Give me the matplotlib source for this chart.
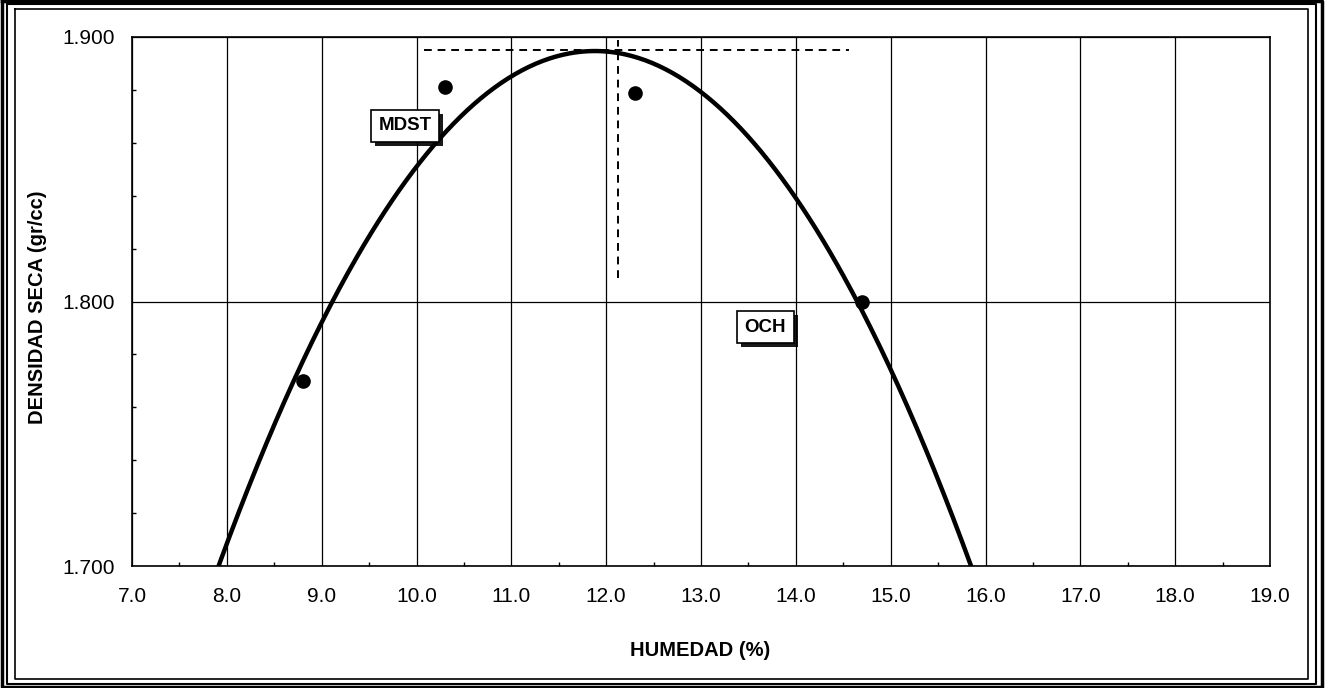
import matplotlib.pyplot as plt
import matplotlib.patheffects as pe
import numpy as np
from matplotlib.lines import Line2D
from matplotlib.ticker import MultipleLocator

plt.rcParams["font.family"] = ["Liberation Sans", "DejaVu Sans"]

# Proctor test points
humedad = [8.8, 10.3, 12.3, 14.7]
densidad = [1.770, 1.881, 1.879, 1.800]

# reference lines for max dry density and optimum moisture
mdst = 1.895
mdst_x = [10.08, 14.56]
och = 12.12
och_y = [1.809, 1.899]

x_ticks = np.arange(7, 20)
y_ticks = [1.700, 1.800, 1.900]

labels = ["MDST", "OCH"]
label_pos = [(9.88, 1.8664), (13.68, 1.7903)]

W, H = 1327, 688
fig = plt.figure(figsize=(W / 100, H / 100), dpi=100)
ax = fig.add_axes([132 / W, 1 - 566 / H, (1270 - 132) / W, (566 - 37) / H])

# fitted curve (2nd order trendline through the points)
coef = np.polyfit(humedad, densidad, 2)
xs = np.linspace(7, 19, 500)
ax.plot(xs, np.polyval(coef, xs), color="black", lw=3.2, zorder=3)
ax.plot(humedad, densidad, "o", color="black", ms=9.5, zorder=4)

ax.plot(mdst_x, [mdst, mdst], color="black", lw=1.4, ls=(0, (4, 3)), zorder=3)
ax.plot([och, och], och_y, color="black", lw=1.4, ls=(0, (4, 3)), zorder=3)

for lab, (lx, ly) in zip(labels, label_pos):
    t = ax.text(lx, ly, lab, ha="center", va="center", fontsize=13.5,
                fontweight="bold",
                bbox=dict(boxstyle="square,pad=0.4", fc="white", ec="black", lw=1.2),
                zorder=6)
    # drop shadow on the box
    t.get_bbox_patch().set_path_effects([
        pe.SimplePatchShadow(offset=(3, -3), shadow_rgbFace="black", alpha=0.9),
        pe.Normal()])

ax.set_xlim(7, 19)
ax.set_ylim(1.7, 1.9)
ax.set_xticks(x_ticks)
ax.set_xticklabels(["%.1f" % v for v in x_ticks])
ax.set_yticks(y_ticks)
ax.set_yticklabels(["%.3f" % v for v in y_ticks])
ax.xaxis.set_minor_locator(MultipleLocator(0.5))
ax.yaxis.set_minor_locator(MultipleLocator(0.02))
ax.tick_params(which="major", length=0, labelsize=15)
ax.tick_params(axis="x", which="major", pad=15)
ax.tick_params(axis="y", which="major", pad=12)
ax.tick_params(which="minor", direction="in", length=3, width=1)
ax.grid(True, which="major", color="black", lw=0.9)
for s in ax.spines.values():
    s.set_linewidth(1.2)

fig.text(700 / W, 1 - 651 / H, "HUMEDAD (%)", ha="center", va="center",
         fontsize=14.5, fontweight="bold")
fig.text(38 / W, 1 - 307 / H, "DENSIDAD SECA (gr/cc)", ha="center",
         va="center", rotation=90, fontsize=14.5, fontweight="bold")


# page frame
def frame(x0, y0, x1, y1, lw):
    xs_ = [x0 / W, x1 / W, x1 / W, x0 / W, x0 / W]
    ys_ = [1 - y0 / H, 1 - y0 / H, 1 - y1 / H, 1 - y1 / H, 1 - y0 / H]
    fig.add_artist(Line2D(xs_, ys_, color="black", lw=lw))


frame(15, 9, 1308, 679, 1.2)
frame(7, 4, 1316, 684, 1.5)
frame(2, 1, 1322, 687, 2.5)

fig.savefig("out.png", dpi=100)
